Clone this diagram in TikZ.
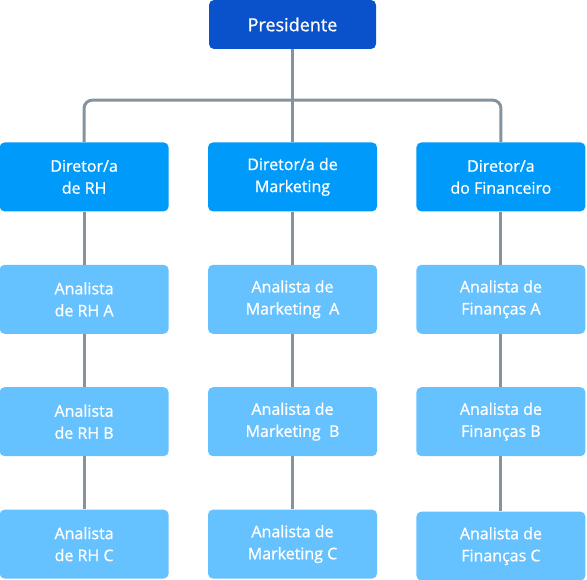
\documentclass[tikz,border=0pt]{standalone}
\usepackage{fontspec}
\setmainfont{Open Sans}[FakeBold=0.9]
\usetikzlibrary{positioning}
\definecolor{presblue}{RGB}{10,82,204}
\definecolor{dirblue}{RGB}{0,154,250}
\definecolor{analystblue}{RGB}{102,194,255}
\definecolor{linkgray}{RGB}{132,147,158}
\tikzset {
  org box/.style = {
    rounded corners = 5pt,
    text = white,
    align = center,
    inner sep = 0pt,
    font = \fontsize{16}{22}\selectfont
  },
  % top of the chart
  chief/.style = {
    org box,
    fill = presblue,
    minimum width = 167pt,
    minimum height = 49pt,
    font = \fontsize{18}{20}\selectfont
  },
  director/.style = {
    org box,
    fill = dirblue,
    minimum width = 169pt,
    minimum height = 69pt
  },
  analyst/.style = {
    org box,
    fill = analystblue,
    minimum width = 169pt,
    minimum height = 69pt
  },
  link/.style = {
    draw = linkgray,
    line width = 3pt
  },
  node distance = 53pt and 39pt
}
\begin{document}
\begin{tikzpicture}
    \useasboundingbox (0,0) rectangle (587pt,-580pt);

    \node[chief] (pres) at (292.5pt,-24.5pt) {Presidente};
    \coordinate[below=51pt of pres] (bar);

    \node[director] (dmkt) [below=93pt of pres] {Diretor/a de\\Marketing};
    \node[director] (drh) [left=of dmkt] {Diretor/a\\de RH};
    \node[director] (dfin) [right=of dmkt] {Diretor/a\\do Financeiro};

    \node[analyst] (rha) [below=of drh] {Analista\\de RH A};
    \node[analyst] (rhb) [below=of rha] {Analista\\de RH B};
    \node[analyst] (rhc) [below=of rhb] {Analista\\de RH C};

    \node[analyst] (mkta) [below=of dmkt] {Analista de\\Marketing~~A};
    \node[analyst] (mktb) [below=of mkta] {Analista de\\Marketing~~B};
    \node[analyst] (mktc) [below=of mktb] {Analista de\\Marketing C};

    \node[analyst] (fina) [below=of dfin] {Analista de\\Finanças A};
    \node[analyst] (finb) [below=of fina] {Analista de\\Finanças B};
    \node[analyst] (finc) [below=55pt of finb] {Analista de\\Finanças C};

    \draw[link] (pres) -- (dmkt);
    \draw[link, rounded corners = 8pt] (drh) |- (bar) -| (dfin);

    \draw[link] (drh) -- (rha) -- (rhb) -- (rhc);
    \draw[link] (dmkt) -- (mkta) -- (mktb) -- (mktc);
    \draw[link] (dfin) -- (fina) -- (finb) -- (finc);

\end{tikzpicture}
\end{document}
